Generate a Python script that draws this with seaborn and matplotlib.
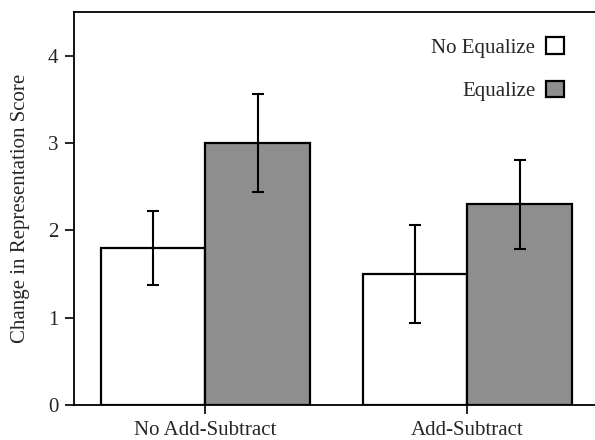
import matplotlib
matplotlib.use("Agg")
import matplotlib.pyplot as plt
import seaborn as sns
import pandas as pd
import numpy as np

groups = ["No Add-Subtract", "Add-Subtract"]
conditions = ["No Equalize", "Equalize"]
no_eq_vals = [1.80, 1.50]
eq_vals = [3.00, 2.30]
no_eq_err = [0.42, 0.56]
eq_err = [0.56, 0.51]
yticks = [0, 1, 2, 3, 4]

sns.set_style("white")
plt.rcParams["font.family"] = ["Liberation Serif", "DejaVu Serif"]

df = pd.DataFrame({
    "group": groups * 2,
    "cond": [conditions[0]] * 2 + [conditions[1]] * 2,
    "value": no_eq_vals + eq_vals,
})

fig = plt.figure(figsize=(5.95, 4.4), dpi=100)
ax = fig.add_axes([74.3 / 595, 35 / 440, (598.4 - 74.3) / 595, (405 - 12.3) / 440])

palette = {conditions[0]: "#ffffff", conditions[1]: "#8e8e8e"}
sns.barplot(data=df, x="group", y="value", hue="cond", order=groups,
            hue_order=conditions, palette=palette, errorbar=None,
            edgecolor="black", linewidth=1.6, saturation=1, ax=ax,
            width=0.8)

errs = {conditions[0]: no_eq_err, conditions[1]: eq_err}
vals = {conditions[0]: no_eq_vals, conditions[1]: eq_vals}
for cont, cond in zip(ax.containers, conditions):
    xs = [p.get_x() + p.get_width() / 2 for p in cont.patches]
    ax.errorbar(xs, vals[cond], yerr=errs[cond], fmt="none", ecolor="black",
                elinewidth=1.5, capsize=4.5, capthick=1.5, zorder=5)

ax.set_ylim(0, 4.5)
ax.set_xlim(-0.5, 1.5)
ax.set_yticks(yticks)
ax.set_xlabel("")
ax.set_ylabel("Change in Representation Score", fontsize=15)
ax.yaxis.set_label_coords(-0.0845, 0.5)
ax.tick_params(axis="both", direction="out", length=6.8, width=1.2,
               labelsize=15, left=True, bottom=True, color="black", pad=4.5)
for s in ["left", "bottom", "top", "right"]:
    ax.spines[s].set_color("black")
    ax.spines[s].set_linewidth(1.3)

handles, labels = ax.get_legend_handles_labels()
ax.legend(handles, labels, loc="upper right", bbox_to_anchor=(0.9344, 0.937),
          frameon=False, markerfirst=False,
          fontsize=15, handlelength=0.87, handleheight=0.87, labelspacing=1.1,
          handletextpad=0.5, borderaxespad=0, borderpad=0)

fig.savefig("out.png", dpi=100)
